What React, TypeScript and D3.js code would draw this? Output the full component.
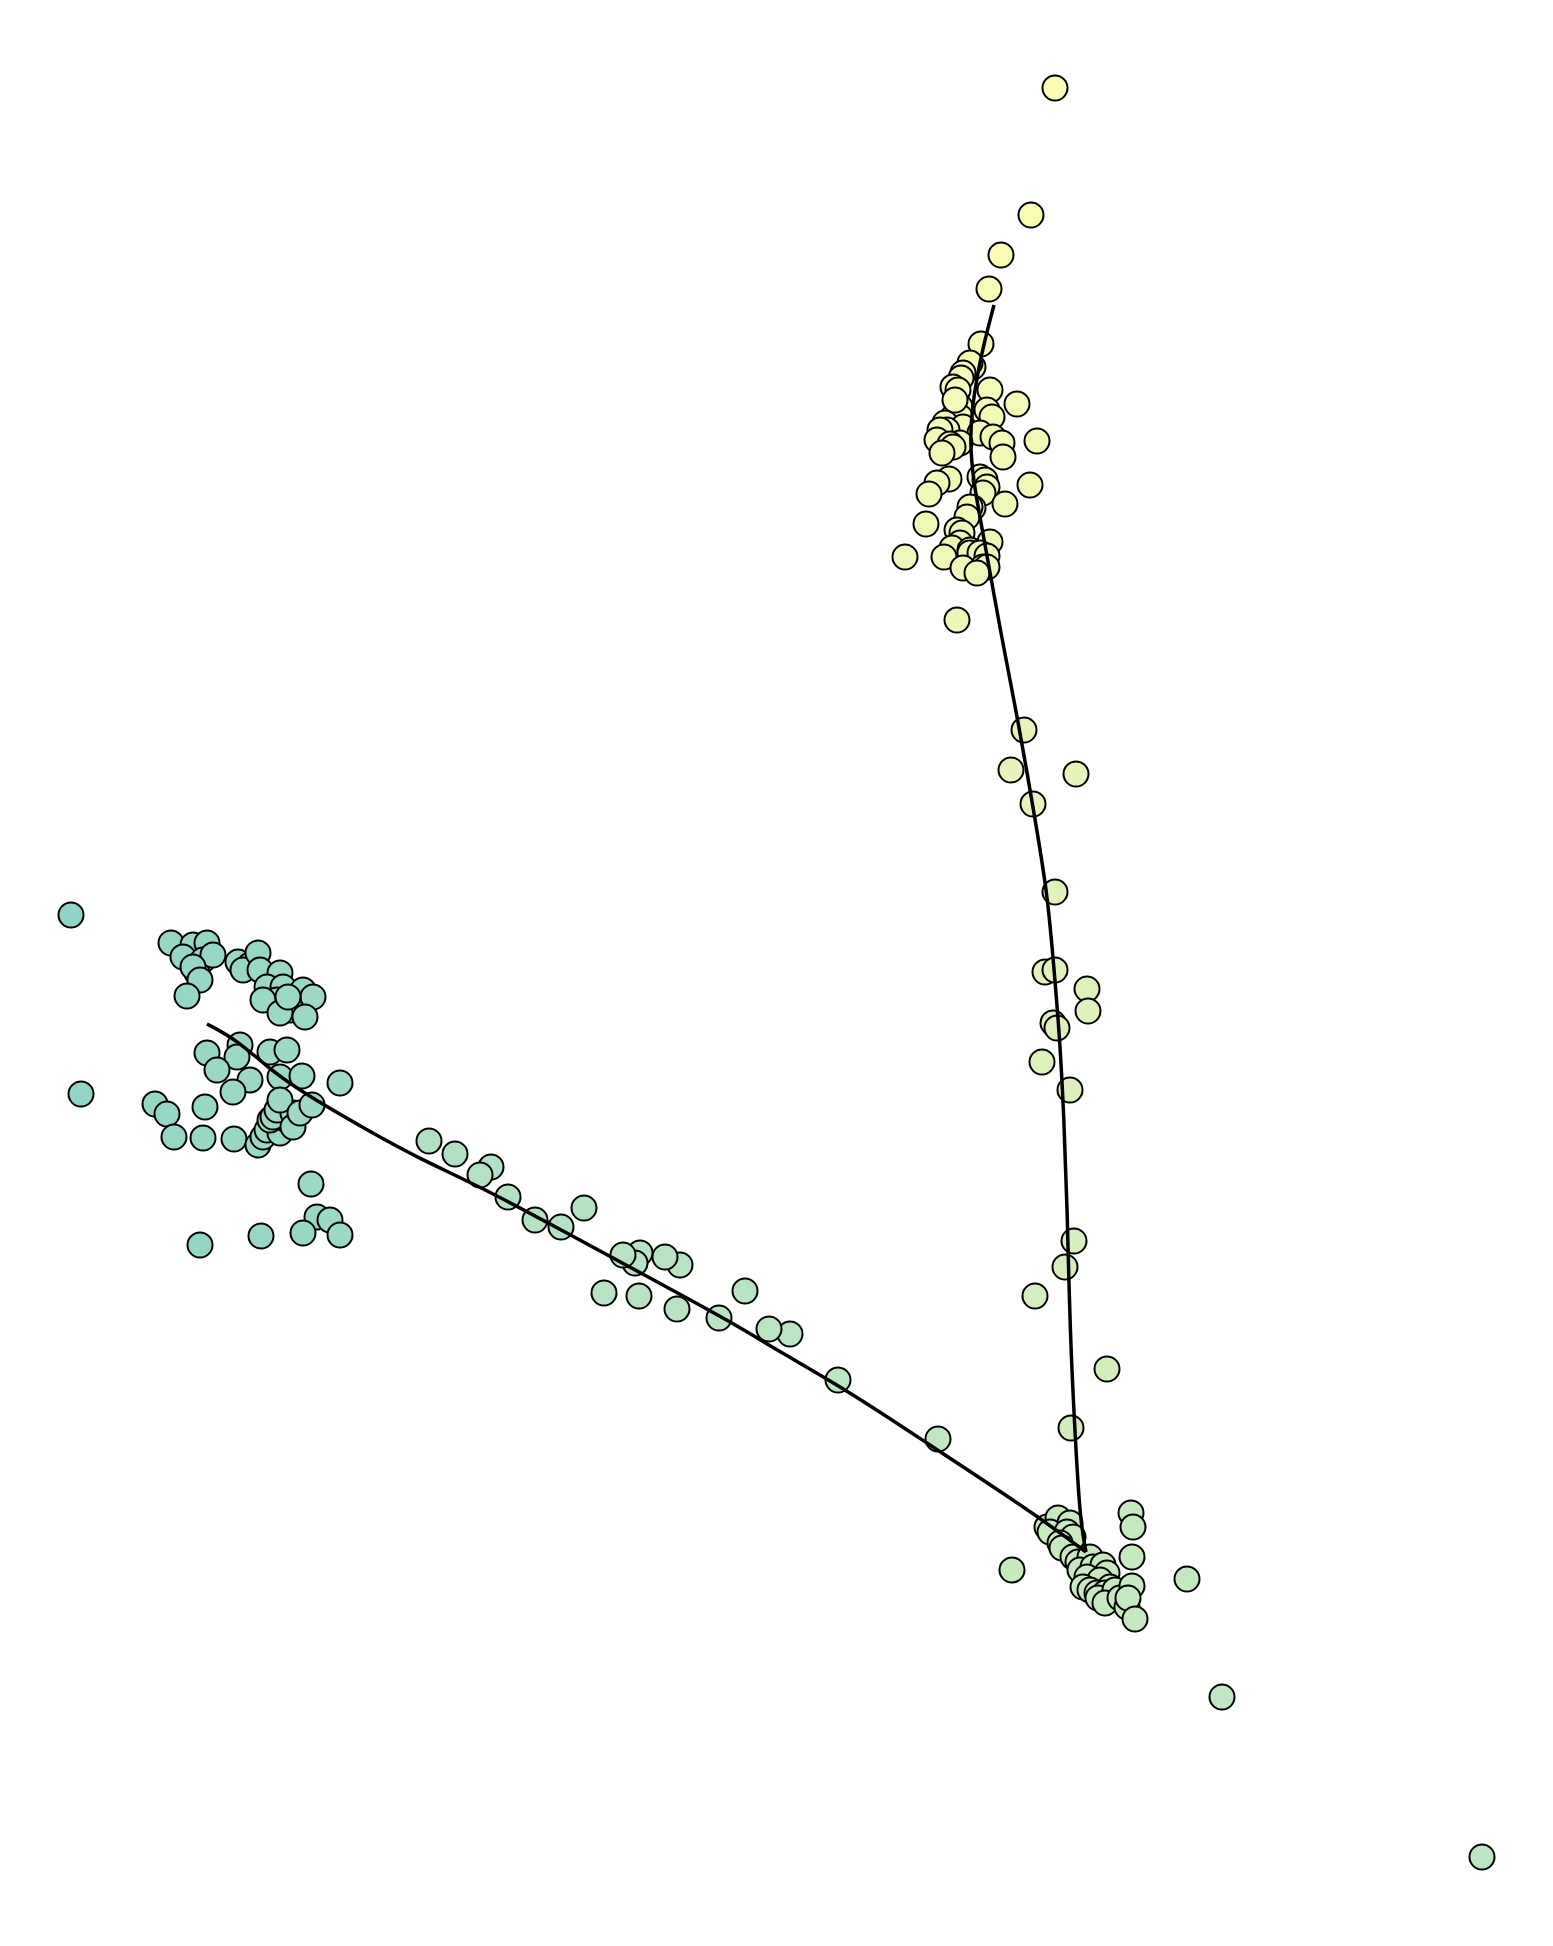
// App.tsx
// Scatter of cells in a 2D embedding with two fitted principal curves
import { useEffect, useRef } from "react"
import * as d3 from "d3"

type Cell = [number, number, number] // [dim1, dim2, pseudotime]

// top tail + upper cluster
const topCells: Cell[] = [
  [105.5, 185.8, 0], [103.1, 173.1, 0.02], [100.1, 169.1, 0.04], [98.9, 165.7, 0.05],
  [98.1, 160.2, 0.07], [97.3, 157.9, 0.08], [97.0, 158.3, 0.08], [96.3, 157.3, 0.08],
  [96.1, 156.8, 0.08], [95.3, 155.9, 0.09], [95.8, 155.6, 0.09], [99.0, 155.6, 0.09],
  [101.7, 154.2, 0.1], [98.7, 153.6, 0.1], [96.0, 153.9, 0.1], [95.3, 152.9, 0.1],
  [96.0, 152.9, 0.1], [99.2, 152.9, 0.1], [94.5, 152.3, 0.1], [96.3, 151.9, 0.1],
  [95.5, 154.6, 0.09], [94.7, 151.6, 0.1], [94.0, 151.6, 0.1], [98.0, 151.3, 0.11],
  [99.3, 150.9, 0.11], [103.7, 150.5, 0.11], [93.7, 150.6, 0.11], [96.0, 150.3, 0.11],
  [95.0, 150.2, 0.11], [95.3, 149.9, 0.11], [94.2, 149.3, 0.11], [100.2, 150.3, 0.11],
  [100.3, 148.9, 0.12], [98.0, 146.9, 0.12], [94.9, 146.7, 0.12], [93.7, 146.3, 0.12],
  [98.5, 146.6, 0.12], [103.0, 146.1, 0.12], [98.7, 145.9, 0.12], [92.9, 145.2, 0.13],
  [98.3, 145.3, 0.13], [100.5, 144.2, 0.13], [97.3, 143.8, 0.13], [97.0, 143.9, 0.13],
  [96.7, 142.9, 0.13], [92.6, 142.2, 0.14], [95.7, 141.6, 0.14], [96.2, 141.3, 0.14],
  [99.0, 140.4, 0.14], [96.0, 140.3, 0.14], [95.2, 139.8, 0.14], [97.0, 139.6, 0.14],
  [97.0, 139.3, 0.14], [98.0, 139.3, 0.14], [98.7, 139.0, 0.15], [90.5, 138.9, 0.15],
  [94.4, 138.9, 0.15], [96.3, 137.8, 0.15], [98.3, 137.9, 0.15], [98.7, 137.9, 0.15],
  [97.7, 137.3, 0.15], [95.7, 132.6, 0.17],
]

// vertical branch
const midCells: Cell[] = [
  [102.4, 121.6, 0.26], [101.1, 117.6, 0.27], [107.6, 117.2, 0.27], [103.3, 114.2, 0.28],
  [105.5, 105.4, 0.31], [104.5, 97.4, 0.33], [105.5, 97.6, 0.33], [108.7, 95.7, 0.34],
  [108.8, 93.5, 0.34], [105.3, 92.3, 0.35], [105.7, 91.8, 0.35], [104.2, 88.4, 0.36],
  [107.0, 85.6, 0.37], [107.4, 70.5, 0.41], [106.5, 67.9, 0.42], [103.5, 65.0, 0.43],
  [110.7, 57.7, 0.45], [107.1, 51.8, 0.46],
]

// junction cluster, lower right
const joinCells: Cell[] = [
  [113.1, 43.3, 0.5], [113.3, 41.9, 0.5], [113.2, 38.9, 0.5], [105.8, 42.1, 0.49],
  [104.7, 41.9, 0.49], [105.8, 42.8, 0.49], [107.0, 42.3, 0.49], [105.7, 41.1, 0.49],
  [105.0, 41.4, 0.49], [106.7, 41.4, 0.49], [107.3, 40.9, 0.49], [106.0, 40.3, 0.5],
  [106.2, 39.8, 0.5], [101.2, 37.6, 0.5], [107.3, 38.9, 0.5], [107.8, 38.4, 0.5],
  [109.0, 38.9, 0.5], [108.0, 37.6, 0.5], [109.3, 37.9, 0.5], [110.3, 38.1, 0.5],
  [110.7, 37.3, 0.5], [108.7, 36.9, 0.5], [110.0, 36.6, 0.5], [108.3, 35.9, 0.5],
  [111.0, 35.9, 0.51], [109.0, 35.6, 0.51], [109.7, 35.3, 0.51], [110.5, 35.3, 0.51],
  [109.8, 34.8, 0.51], [111.5, 35.6, 0.51], [110.5, 34.3, 0.51], [112.0, 34.8, 0.51],
  [112.7, 33.9, 0.51], [113.2, 36.0, 0.51], [112.8, 34.8, 0.51], [113.5, 32.7, 0.52],
  [118.7, 36.7, 0.52], [122.2, 24.9, 0.55], [148.2, 8.9, 0.6],
]

// diagonal branch
const diagCells: Cell[] = [
  [93.8, 50.7, 0.55], [83.8, 56.6, 0.58], [79.0, 61.2, 0.6], [76.9, 61.7, 0.6],
  [74.5, 65.5, 0.61], [71.9, 62.8, 0.61], [67.7, 63.7, 0.62], [63.9, 65.0, 0.63],
  [60.4, 65.3, 0.63], [68.0, 68.1, 0.62], [66.5, 68.9, 0.62], [64.0, 69.3, 0.63],
  [63.5, 68.3, 0.63], [62.3, 69.1, 0.63], [58.4, 73.8, 0.65], [56.1, 71.9, 0.65],
  [53.5, 72.6, 0.66], [50.8, 74.9, 0.67], [49.1, 77.9, 0.68], [48.0, 77.1, 0.68],
  [45.5, 79.2, 0.69], [42.9, 80.5, 0.7],
]

// left cluster
const leftCells: Cell[] = [
  [7.1, 103.1, 1.0], [17.1, 100.3, 0.95], [19.3, 100.1, 0.95], [20.7, 100.3, 0.95],
  [18.3, 98.9, 0.95], [20.3, 98.6, 0.94], [19.7, 97.3, 0.94],
  [21.3, 99.1, 0.94], [19.3, 97.9, 0.95], [20.0, 96.6, 0.94], [18.7, 95.0, 0.95],
  [23.8, 98.4, 0.92], [25.0, 98.1, 0.92], [24.3, 97.6, 0.92], [25.8, 99.3, 0.92],
  [26.0, 97.6, 0.91], [28.0, 97.3, 0.9], [26.7, 95.9, 0.9], [28.3, 95.9, 0.9],
  [27.7, 94.6, 0.9], [26.3, 94.6, 0.9], [29.0, 93.6, 0.9], [29.7, 94.3, 0.9],
  [28.0, 93.3, 0.9], [30.3, 95.6, 0.89], [31.3, 94.9, 0.89], [30.5, 92.9, 0.89],
  [28.8, 94.9, 0.9], [20.7, 89.3, 0.92], [24.0, 90.1, 0.9], [23.7, 88.9, 0.9],
  [21.7, 87.6, 0.91], [25.0, 86.6, 0.89], [23.3, 85.4, 0.9], [27.0, 89.4, 0.88],
  [28.7, 89.6, 0.88], [28.0, 86.9, 0.87], [30.2, 87.0, 0.86], [34.0, 86.3, 0.85],
  [8.1, 85.2, 0.98], [15.5, 84.2, 0.95], [16.7, 83.2, 0.95], [17.4, 80.9, 0.94],
  [20.3, 80.8, 0.93], [20.5, 83.9, 0.93], [23.4, 80.7, 0.92], [25.8, 80.1, 0.9],
  [26.3, 80.9, 0.9], [26.7, 81.6, 0.9], [28.0, 81.3, 0.89], [27.0, 82.6, 0.89],
  [28.7, 82.6, 0.88], [27.3, 82.9, 0.88], [27.7, 83.6, 0.88], [29.3, 83.3, 0.88],
  [28.0, 84.6, 0.88], [29.3, 81.9, 0.88], [30.0, 83.3, 0.87], [31.2, 84.1, 0.87],
  [31.1, 76.2, 0.9], [31.7, 72.9, 0.91], [33.0, 72.6, 0.9], [30.3, 71.3, 0.92],
  [34.0, 71.1, 0.9], [26.1, 71.0, 0.93], [20.0, 70.1, 0.96],
]

// principal curves
const curveTop: [number, number][] = [
  [99.4, 164.1], [99.0, 162.6], [98.0, 158.6], [97.2, 153.9], [97.0, 150.6],
  [97.3, 146.6], [98.3, 141.3], [100.2, 130.6], [101.8, 122.6], [103.3, 113.9],
  [104.7, 105.6], [105.3, 98.9], [106.0, 90.6], [106.4, 82.6], [106.7, 74.6],
  [107.0, 61.3], [107.5, 51.3], [108.0, 42.6], [108.6, 39.4],
]
const curveLeft: [number, number][] = [
  [20.7, 92.2], [23.7, 90.6], [26.7, 87.9], [30.3, 85.3], [36.7, 81.6],
  [41.8, 78.8], [48.3, 75.8], [56.7, 71.3], [65.0, 66.8], [73.3, 62.3],
  [78.0, 59.4], [84.7, 55.6], [93.3, 49.9], [98.0, 46.8], [104.0, 42.8], [108.6, 39.4],
]

const colorStops = [0, 0.15, 0.3, 0.45, 0.5, 0.6, 0.75, 1]
const colorRange = ["#fcfdb5", "#eff8b8", "#e2f3bb", "#d3edbd", "#c6e9c0", "#bae4c2", "#acdec4", "#90d4c6"]

const W = 1553
const H = 1946

export default function App() {
  const svgRef = useRef<SVGSVGElement>(null)

  useEffect(() => {
    if (!svgRef.current) return
    const svg = d3.select(svgRef.current)
    svg.selectAll("*").remove()

    const x = d3.scaleLinear().domain([0, 155.3]).range([0, W])
    const y = d3.scaleLinear().domain([0, 194.6]).range([H, 0])
    const color = d3.scaleLinear<string>().domain(colorStops).range(colorRange).interpolate(d3.interpolateRgb)

    const cells = [...topCells, ...midCells, ...joinCells, ...diagCells, ...leftCells]

    svg.append("g")
      .selectAll("circle")
      .data(cells)
      .join("circle")
      .attr("cx", d => x(d[0]))
      .attr("cy", d => y(d[1]))
      .attr("r", 12.5)
      .attr("fill", d => color(d[2]))
      .attr("stroke", "#000")
      .attr("stroke-width", 2)

    const line = d3.line<[number, number]>()
      .x(d => x(d[0]))
      .y(d => y(d[1]))
      .curve(d3.curveBasis)

    svg.append("g")
      .selectAll("path")
      .data([curveTop, curveLeft])
      .join("path")
      .attr("d", d => line(d))
      .attr("fill", "none")
      .attr("stroke", "#000")
      .attr("stroke-width", 3.5)
  }, [])

  return (
    <div style={{ position: "absolute", left: 0, top: 0, background: "#fff" }}>
      <svg ref={svgRef} width={W} height={H} style={{ display: "block" }} />
    </div>
  )
}
